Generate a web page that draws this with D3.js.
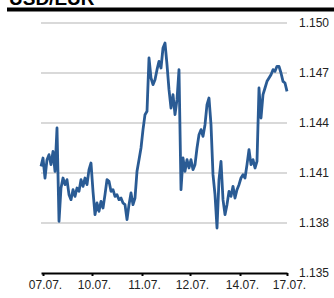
<!DOCTYPE html>
<html><head><meta charset="utf-8">
<script src="https://cdn.jsdelivr.net/npm/d3@7"></script>
<style>html,body{margin:0;padding:0;background:#fff;}svg{display:block;}</style>
</head><body>
<script>
const title = "USD/EUR";
const yTicks = [1.135, 1.138, 1.141, 1.144, 1.147, 1.150];
const tickLabels = ["07.07.", "10.07.", "11.07.", "12.07.", "14.07.", "17.07."];
const tickIndex = [1, 25.5, 50.5, 74.5, 99.5, 123];
const rate = [
1.1414,1.1419,1.1407,1.1418,1.1421,1.1415,1.1423,1.1411,1.1437,1.1381,
1.1401,1.1407,1.1403,1.1406,1.1397,1.1394,1.1400,1.1396,1.1401,1.1399,
1.1406,1.1402,1.1407,1.1403,1.1412,1.1416,1.1399,1.1385,1.1392,1.1387,
1.1393,1.1389,1.1397,1.1406,1.1405,1.1399,1.1400,1.1396,1.1397,1.1394,
1.1395,1.1392,1.1391,1.1382,1.1391,1.1398,1.1391,1.1395,1.1411,1.1418,
1.1425,1.1436,1.1445,1.1447,1.1479,1.1467,1.1463,1.1466,1.1472,1.1477,
1.1473,1.1485,1.1488,1.1475,1.1460,1.1449,1.1457,1.1445,1.1454,1.1472,
1.1400,1.1419,1.1411,1.1418,1.1413,1.1418,1.1412,1.1415,1.1425,1.1433,
1.1436,1.1432,1.1439,1.1451,1.1455,1.1439,1.1409,1.1397,1.1377,1.1406,
1.1417,1.1394,1.1385,1.1391,1.1399,1.1396,1.1402,1.1395,1.1400,1.1403,
1.1407,1.1409,1.1407,1.1415,1.1424,1.1415,1.1418,1.1413,1.1417,1.1461,
1.1443,1.1457,1.1461,1.1465,1.1467,1.1469,1.1472,1.1471,1.1474,1.1474,
1.1470,1.1465,1.1464,1.1459
];

const W = 334, H = 298;
const svg = d3.select("body").append("svg").attr("width", W).attr("height", H);
const x = d3.scaleLinear().domain([0, rate.length - 1]).range([41, 287]);
const y = d3.scaleLinear().domain([1.135, 1.150]).range([273, 23]);

svg.append("text").attr("x", 9).attr("y", 4.5)
  .attr("font-family", "Liberation Sans, Arial, sans-serif")
  .attr("font-weight", "bold").attr("font-size", 19).attr("fill", "#000").text(title);
svg.append("rect").attr("x", 7).attr("y", 7.5).attr("width", W - 7).attr("height", 4).attr("fill", "#000");

svg.append("g").selectAll("line").data(yTicks.slice(1)).join("line")
  .attr("x1", 41).attr("x2", 287)
  .attr("y1", d => y(d)).attr("y2", d => y(d))
  .attr("stroke", "#d9d9d9").attr("stroke-width", 2);

svg.append("g").selectAll("text").data(yTicks).join("text")
  .attr("x", 299).attr("y", d => y(d)).attr("dy", "0.36em")
  .attr("font-family", "Liberation Sans, Arial, sans-serif").attr("font-size", 12)
  .attr("fill", "#222").text(d => d3.format(".3f")(d));

const line = d3.line().x((d, i) => x(i)).y(d => y(d));
svg.append("path").datum(rate).attr("d", line)
  .attr("fill", "none").attr("stroke", "#2a5b94").attr("stroke-width", 2.8)
  .attr("stroke-linejoin", "round");

const xAxis = d3.axisBottom(x).tickValues(tickIndex)
  .tickFormat((d, i) => tickLabels[i]).tickSize(3).tickPadding(4).tickSizeOuter(0);
const gx = svg.append("g").attr("transform", "translate(0,273)").call(xAxis);
gx.select(".domain").attr("stroke", "#000").attr("stroke-width", 2);
gx.selectAll(".tick line").attr("stroke", "#000").attr("stroke-width", 2);
gx.selectAll(".tick text").attr("font-family", "Liberation Sans, Arial, sans-serif")
  .attr("font-size", 12).attr("fill", "#222").attr("dx", "2");
</script>
</body></html>
